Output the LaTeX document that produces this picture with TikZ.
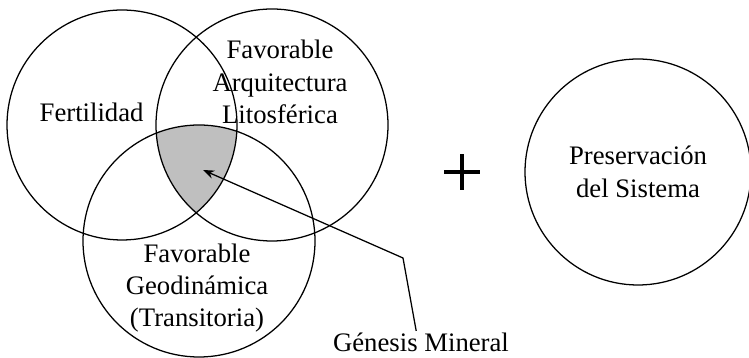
\documentclass[tikz,border=0pt]{standalone}
\usepackage{fontspec}
\setmainfont{Liberation Serif}
\usetikzlibrary{arrows.meta}

\tikzset{
    venn/.style={line width=0.9pt},
    lbl/.style={align=center, font=\fontsize{19}{23}\selectfont, inner sep=1pt}
}

\begin{document}
\begin{tikzpicture}
    \useasboundingbox (0, 0) rectangle (18.725, 8.95);

    % common region of the three conditions
    \begin{scope}
        \clip (3.05, 5.825) circle (2.875);
        \clip (6.8, 5.825) circle (2.9);
        \fill[black!25] (4.975, 2.925) circle (2.9);
    \end{scope}

    % the three circles
    \draw[venn] (3.05, 5.825) circle (2.875);
    \draw[venn] (6.8, 5.825) circle (2.9);
    \draw[venn] (4.975, 2.925) circle (2.9);
    \node[lbl] (fert) at (2.29, 6.15) {Fertilidad};
    \node[lbl] (arq) at (7.0, 6.9) {Favorable\\Arquitectura\\Litosférica};
    \node[lbl] (geo) at (4.925, 1.75) {Favorable\\Geodinámica\\(Transitoria)};

    % plus sign
    \draw[line width=2.2pt] (11.11, 4.65) -- (11.99, 4.65);
    \draw[line width=2.2pt] (11.55, 4.21) -- (11.55, 5.09);

    % preservation
    \draw[venn] (15.95, 4.65) circle (2.825);
    \node[lbl] (pres) at (15.95, 4.65) {Preservación\\del Sistema};

    % label pointing to the common region
    \node[lbl] (gen) at (10.525, 0.4) {Génesis Mineral};
    \coordinate (core) at (5.075, 4.7);
    \coordinate (bend) at (10.075, 2.5);
    \draw[line width=0.9pt, -{Stealth[length=8pt, width=6pt]}]
        ([xshift=-0.12cm]gen.north) -- (bend) -- (core);
\end{tikzpicture}
\end{document}
